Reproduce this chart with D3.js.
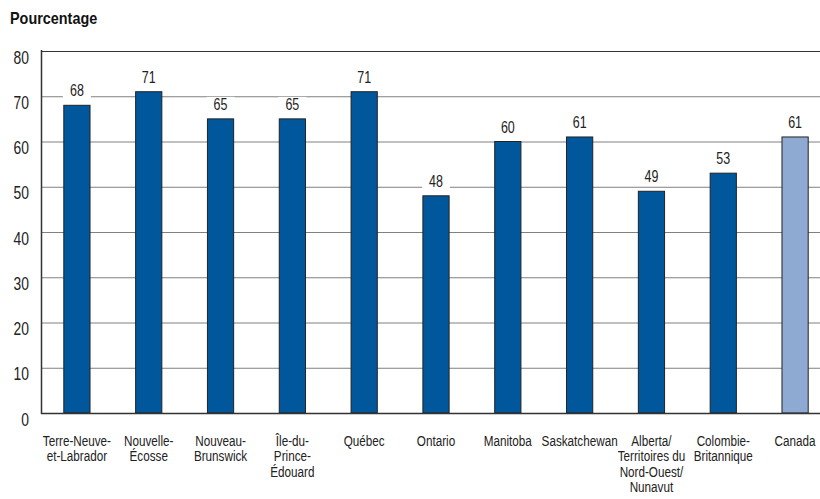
<!DOCTYPE html>
<html><head><meta charset="utf-8">
<script src="https://cdn.jsdelivr.net/npm/d3@7"></script>
<style>body{margin:0;background:#fff}svg{display:block}text{font-family:"Liberation Sans",Arial,sans-serif}</style>
</head><body><svg id="c" width="820" height="499"></svg>
<script>
const categories = [["Terre-Neuve-","et-Labrador"],["Nouvelle-","Écosse"],["Nouveau-","Brunswick"],["Île-du-","Prince-","Édouard"],["Québec"],["Ontario"],["Manitoba"],["Saskatchewan"],["Alberta/","Territoires du","Nord-Ouest/","Nunavut"],["Colombie-","Britannique"],["Canada"]];
const values = [68,71,65,65,71,48,60,61,49,53,61];
const yTicks = [0,10,20,30,40,50,60,70,80];
const SX = 0.78;
const svg = d3.select("#c");
const x = d3.scaleBand().domain(d3.range(values.length)).range([41,831]).paddingInner(0.635).paddingOuter(0.3175);
const y = d3.scaleLinear().domain([0,80]).range([413,51]);
svg.append("text").attr("transform","translate(10,24) scale(0.9,1)").attr("font-size",16).attr("font-weight","bold").attr("fill","#111").text("Pourcentage");
svg.append("g").selectAll("line").data(yTicks.filter(d=>d>0)).join("line")
 .attr("x1",41).attr("x2",820).attr("y1",d=>y(d)+0.5).attr("y2",d=>y(d)+0.5).attr("stroke",d=>d===80?"#333":"#808080").attr("stroke-width",1);
svg.append("g").selectAll("text").data(yTicks).join("text").attr("transform",d=>`translate(29,${y(d)+12.5}) scale(0.77,1)`).attr("text-anchor","end").attr("font-size",18).attr("fill","#222").text(d=>d);
const g = svg.append("g");
g.selectAll("rect").data(values).join("rect").attr("x",(d,i)=>x(i)).attr("width",x.bandwidth()).attr("y",d=>y(d)).attr("height",d=>y(0)-y(d))
 .attr("fill",(d,i)=>i===values.length-1?"#8eaad2":"#00579c").attr("stroke","#222").attr("stroke-width",1);
const lab = svg.append("g").selectAll("g").data(values).join("g").attr("transform",(d,i)=>`translate(${x(i)+x.bandwidth()/2},${y(d)-9})`);
lab.append("rect").attr("x",-14).attr("y",-13).attr("width",28).attr("height",15).attr("fill","#fff");
lab.append("text").attr("transform",`scale(${SX},1)`).attr("text-anchor","middle").attr("font-size",16).attr("fill","#222").text(d=>d);
svg.append("line").attr("x1",41.5).attr("x2",41.5).attr("y1",50).attr("y2",414).attr("stroke","#333").attr("stroke-width",1.5);
svg.append("line").attr("x1",41).attr("x2",820).attr("y1",413.5).attr("y2",413.5).attr("stroke","#333").attr("stroke-width",1.5);
svg.append("g").selectAll("text").data(categories).join("text").attr("text-anchor","middle").attr("font-size",15).attr("fill","#222")
 .attr("transform",(d,i)=>`translate(${x(i)+x.bandwidth()/2},446) scale(0.78,1)`)
 .selectAll("tspan").data(d=>d).join("tspan").attr("x",0).attr("dy",(d,j)=>j===0?0:15.4).text(d=>d);
</script></body></html>
